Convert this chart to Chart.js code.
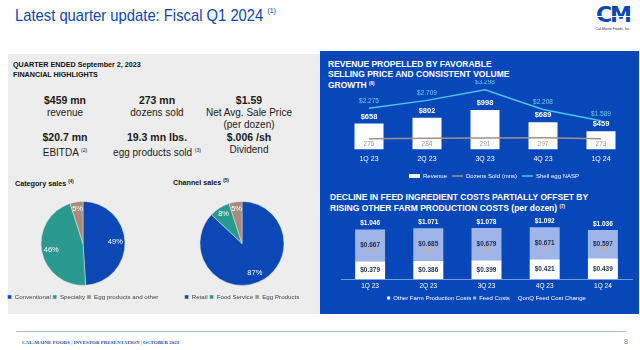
<!DOCTYPE html>
<html>
<head>
<meta charset="utf-8">
<title>Latest quarter update: Fiscal Q1 2024</title>
<script src="https://cdn.jsdelivr.net/npm/chart.js@4.4.0/dist/chart.umd.min.js"></script>
<style>
  body { margin: 0; width: 640px; height: 350px; position: relative; overflow: hidden; background: #fff;
         font-family: "Liberation Sans", Arial, sans-serif; }
  .abs { position: absolute; white-space: nowrap; }
  #title { left: 15px; top: 6px; font-size: 17px; color: #0b47b5; transform: scaleX(0.87); transform-origin: left top; }
  #title sup { font-size: 8px; vertical-align: 8px; }
  #logo { left: 592px; top: 3px; width: 42px; text-align: center; color: #0b47b5; }
  #logo .cm { font-family: "DejaVu Sans", sans-serif; font-weight: bold; font-size: 22px; letter-spacing: -2px; line-height: 24px; }
  #logo .bar { position: absolute; left: 0; top: 13px; width: 42px; height: 1px; background: #fff; }
  #logo .sub { font-size: 3.6px; color: #333; line-height: 5px; }
  #leftPanel { left: 8px; top: 54px; width: 312px; height: 260px; background: #ededed; }
  #rightPanel { left: 320px; top: 51px; width: 319px; height: 263px; background: #0747b9; }
  .head { font-weight: bold; font-size: 7.2px; color: #111; line-height: 10px; }
  .hl { width: 120px; text-align: center; color: #1a1a1a; font-size: 10px; line-height: 12px; }
  .hl b { font-size: 10.5px; }
  .hl sup { font-size: 5px; vertical-align: 4px; }
  .chartTitle { font-weight: bold; font-size: 8.5px; color: #fff; line-height: 10px; }
  .chartTitle sup, .head sup { font-size: 4.5px; vertical-align: 3px; }
  canvas { position: absolute; }
  #footLine { left: 16px; top: 331px; width: 610px; height: 1px; background: #a9bfd6; }
  #footText { left: 22px; top: 340px; font-family: "Liberation Serif", serif; font-weight: bold; font-size: 5px; color: #1d4f9c; }
  #pageNo { left: 624px; top: 338px; font-size: 7px; color: #777; }
</style>
</head>
<body>
<div class="abs" id="title">Latest quarter update: Fiscal Q1 2024 <sup>(1)</sup></div>
<div class="abs" id="logo"><div class="cm">CM</div><div class="bar"></div><div class="sub">Cal-Maine Foods, Inc.</div></div>

<div class="abs" id="leftPanel"></div>
<div class="abs" id="rightPanel"></div>

<div class="abs head" style="left:13px; top:60px;">QUARTER ENDED September 2, 2023<br>FINANCIAL HIGHLIGHTS</div>
<div class="abs hl" style="left:5px; top:94px;"><b>$459 mn</b><br>revenue</div>
<div class="abs hl" style="left:97px; top:94px;"><b>273 mn</b><br>dozens sold</div>
<div class="abs hl" style="left:189px; top:94px;"><b>$1.59</b><br>Net Avg. Sale Price<br>(per dozen)</div>
<div class="abs hl" style="left:5px; top:131px;"><b>$20.7 mn</b><br>EBITDA <sup>(2)</sup></div>
<div class="abs hl" style="left:97px; top:131px;"><b>19.3 mn lbs.</b><br>egg products sold <sup>(3)</sup></div>
<div class="abs hl" style="left:189px; top:131px;"><b>$.006 /sh</b><br>Dividend</div>

<div class="abs head" style="left:15px; top:177px;">Category sales <sup>(4)</sup></div>
<div class="abs head" style="left:173px; top:176px;">Channel sales <sup>(5)</sup></div>

<div class="abs chartTitle" style="left:328px; top:59px;">REVENUE PROPELLED BY FAVORABLE<br>SELLING PRICE AND CONSISTENT VOLUME<br>GROWTH <sup>(6)</sup></div>
<div class="abs chartTitle" style="left:330px; top:192px;">DECLINE IN FEED INGREDIENT COSTS PARTIALLY OFFSET BY<br>RISING OTHER FARM PRODUCTION COSTS (per dozen) <sup>(7)</sup></div>

<canvas id="categoryChart" width="166" height="120" style="left:0px; top:190px;"></canvas>
<canvas id="channelChart" width="160" height="120" style="left:162px; top:190px;"></canvas>
<canvas id="revenueChart" width="330" height="109" style="left:320px; top:80px;"></canvas>
<canvas id="costChart" width="318" height="100" style="left:320px; top:211px;"></canvas>

<div class="abs" id="footLine"></div>
<div class="abs" id="footText">CAL-MAINE FOODS | INVESTOR PRESENTATION | OCTOBER 2023</div>
<div class="abs" id="pageNo">8</div>

<script>
var quarters = ['1Q 23', '2Q 23', '3Q 23', '4Q 23', '1Q 24'];
var revenue = [658, 802, 998, 689, 459];
var dozensSold = [275, 284, 291, 297, 273];
var shellEggNasp = [2.275, 2.709, 3.298, 2.208, 1.589];

var otherFarmCosts = [0.379, 0.386, 0.399, 0.421, 0.439];
var feedCosts = [0.667, 0.685, 0.679, 0.671, 0.597];
var totalCosts = [1.046, 1.071, 1.078, 1.092, 1.036];
var feedChange = [4, 3, -1, -1, -11];

var categoryLabels = ['Conventional', 'Specialty', 'Egg products and other'];
var categoryShares = [49, 46, 5];
var channelLabels = ['Retail', 'Food Service', 'Egg Products'];
var channelShares = [87, 8, 5];

var pieColors = ['#0b47b5', '#2a9a90', '#a88b7d'];
var fontFamily = '"Liberation Sans", Arial, sans-serif';

Chart.defaults.font.family = fontFamily;
Chart.defaults.animation = false;
Chart.defaults.plugins.tooltip.enabled = false;

var pieLabels = {
    id: 'pieLabels',
    afterDatasetsDraw: function(chart) {
        var ctx = chart.ctx;
        var values = chart.data.datasets[0].data;
        ctx.save();
        ctx.fillStyle = '#fff';
        ctx.font = '7.5px ' + fontFamily;
        ctx.textAlign = 'center';
        ctx.textBaseline = 'middle';
        chart.getDatasetMeta(0).data.forEach(function(arc, i) {
            var mid = (arc.startAngle + arc.endAngle) / 2;
            var r = arc.outerRadius * (values[i] < 10 ? 0.82 : 0.77);
            ctx.fillText(values[i] + '%', arc.x + Math.cos(mid) * r, arc.y + Math.sin(mid) * r);
        });
        ctx.restore();
    }
};

function makePie(id, labels, values) {
    return new Chart(document.getElementById(id), {
        type: 'pie',
        data: {
            labels: labels,
            datasets: [{
                data: values,
                backgroundColor: pieColors,
                borderColor: '#e4e4e4',
                borderWidth: 0.5,
                radius: 42
            }]
        },
        options: {
            responsive: false,
            layout: { padding: { top: 5, left: 0, right: 0, bottom: 0 } },
            plugins: {
                legend: {
                    position: 'bottom',
                    labels: { boxWidth: 4, boxHeight: 4, padding: 2, color: '#404040', font: { size: 6.2 } }
                }
            }
        },
        plugins: [pieLabels]
    });
}

makePie('categoryChart', categoryLabels, categoryShares);
makePie('channelChart', channelLabels, channelShares);

var revenueLabels = {
    id: 'revenueLabels',
    afterDatasetsDraw: function(chart) {
        var ctx = chart.ctx;
        var base = chart.scales.y.getPixelForValue(0);
        ctx.save();
        ctx.textAlign = 'center';
        ctx.textBaseline = 'middle';
        chart.getDatasetMeta(0).data.forEach(function(bar, i) {
            ctx.fillStyle = '#fff';
            ctx.font = 'bold 7.5px ' + fontFamily;
            ctx.fillText('$' + revenue[i], bar.x, bar.y - 7);
            ctx.fillStyle = '#a8968a';
            ctx.font = '6.5px ' + fontFamily;
            ctx.fillText(dozensSold[i], bar.x, base - 5);
        });
        ctx.font = '6.5px ' + fontFamily;
        ctx.fillStyle = '#6fcfe8';
        chart.getDatasetMeta(2).data.forEach(function(pt, i) {
            ctx.fillText('$' + shellEggNasp[i].toFixed(3), pt.x, pt.y - 7);
        });
        ctx.restore();
    }
};

new Chart(document.getElementById('revenueChart'), {
    type: 'bar',
    data: {
        labels: quarters,
        datasets: [{
            label: 'Revenue',
            data: revenue,
            backgroundColor: '#fff',
            borderWidth: 0,
            pointStyle: 'rect',
            categoryPercentage: 1,
            barPercentage: 0.5,
            yAxisID: 'y',
            order: 2
        }, {
            type: 'line',
            label: 'Dozens Sold (mns)',
            data: dozensSold,
            borderColor: '#a39187',
            backgroundColor: '#a39187',
            borderWidth: 1.5,
            pointRadius: 0,
            pointStyle: 'line',
            tension: 0,
            yAxisID: 'y',
            order: 1
        }, {
            type: 'line',
            label: 'Shell egg NASP',
            data: shellEggNasp,
            borderColor: '#4cc6e2',
            backgroundColor: '#4cc6e2',
            borderWidth: 1.5,
            pointRadius: 0,
            pointStyle: 'line',
            tension: 0,
            yAxisID: 'y2',
            order: 0
        }]
    },
    options: {
        responsive: false,
        layout: { padding: { top: 6, left: 20, right: 2, bottom: 0 } },
        scales: {
            x: {
                grid: { display: false, drawTicks: false },
                border: { display: false },
                ticks: { color: '#fff', font: { size: 7 }, padding: 5 }
            },
            y: { display: false, min: 0, max: 1600 },
            // NASP axis kept invisible; its reserved width keeps the plot inside the blue panel
            y2: {
                position: 'right', min: 0, max: 3.5,
                grid: { display: false, drawTicks: false },
                border: { display: false },
                ticks: { display: false },
                afterFit: function(scale) { scale.width = 18; }
            }
        },
        plugins: {
            legend: {
                position: 'bottom',
                labels: {
                    usePointStyle: true,
                    pointStyleWidth: 11,
                    boxHeight: 4,
                    padding: 5,
                    color: '#fff',
                    font: { size: 6 },
                    sort: function(a, b) { return a.datasetIndex - b.datasetIndex; }
                }
            }
        }
    },
    plugins: [revenueLabels]
});

var costLabels = {
    id: 'costLabels',
    afterDatasetsDraw: function(chart) {
        var ctx = chart.ctx;
        var other = chart.getDatasetMeta(0).data;
        ctx.save();
        ctx.textAlign = 'center';
        ctx.textBaseline = 'middle';
        chart.getDatasetMeta(1).data.forEach(function(bar, i) {
            var mid = (bar.y + bar.base) / 2;
            ctx.font = 'bold 6.5px ' + fontFamily;
            ctx.fillStyle = '#fff';
            ctx.fillText('$' + totalCosts[i].toFixed(3), bar.x, bar.y - 6);
            ctx.fillStyle = '#1f2b4d';
            ctx.fillText('$' + feedCosts[i].toFixed(3), bar.x, mid);
            ctx.fillText('$' + otherFarmCosts[i].toFixed(3), other[i].x, (other[i].y + other[i].base) / 2);
            ctx.font = '5.5px ' + fontFamily;
            ctx.fillStyle = '#e9a56c';
            ctx.fillText((feedChange[i] > 0 ? '+' : '') + feedChange[i] + '%', bar.x, mid + 5.5);
        });
        ctx.restore();
    }
};

new Chart(document.getElementById('costChart'), {
    type: 'bar',
    data: {
        labels: quarters,
        datasets: [{
            label: 'Other Farm Production Costs',
            data: otherFarmCosts,
            backgroundColor: '#fff',
            categoryPercentage: 1,
            barPercentage: 0.515,
            stack: 'cost'
        }, {
            label: 'Feed Costs',
            data: feedCosts,
            backgroundColor: '#9fb4e8',
            categoryPercentage: 1,
            barPercentage: 0.515,
            stack: 'cost'
        }, {
            type: 'line',
            label: 'QonQ Feed Cost Change',
            data: feedChange,
            showLine: false,
            pointRadius: 0,
            borderColor: 'rgba(0,0,0,0)',
            backgroundColor: 'rgba(0,0,0,0)',
            yAxisID: 'pct'
        }]
    },
    options: {
        responsive: false,
        layout: { padding: { top: 4, left: 21, right: 6, bottom: 0 } },
        scales: {
            x: {
                stacked: true,
                grid: { display: false, drawTicks: false },
                border: { display: true, color: 'rgba(255,255,255,0.45)' },
                ticks: { color: '#fff', font: { size: 6.5 }, padding: 3 }
            },
            y: { display: false, stacked: true, min: 0, max: 1.35 },
            pct: { display: false, min: -100, max: 100 }
        },
        plugins: {
            legend: {
                position: 'bottom',
                labels: { boxWidth: 3, boxHeight: 3, padding: 2, color: '#fff', font: { size: 6 } }
            }
        }
    },
    plugins: [costLabels]
});
</script>
</body>
</html>
